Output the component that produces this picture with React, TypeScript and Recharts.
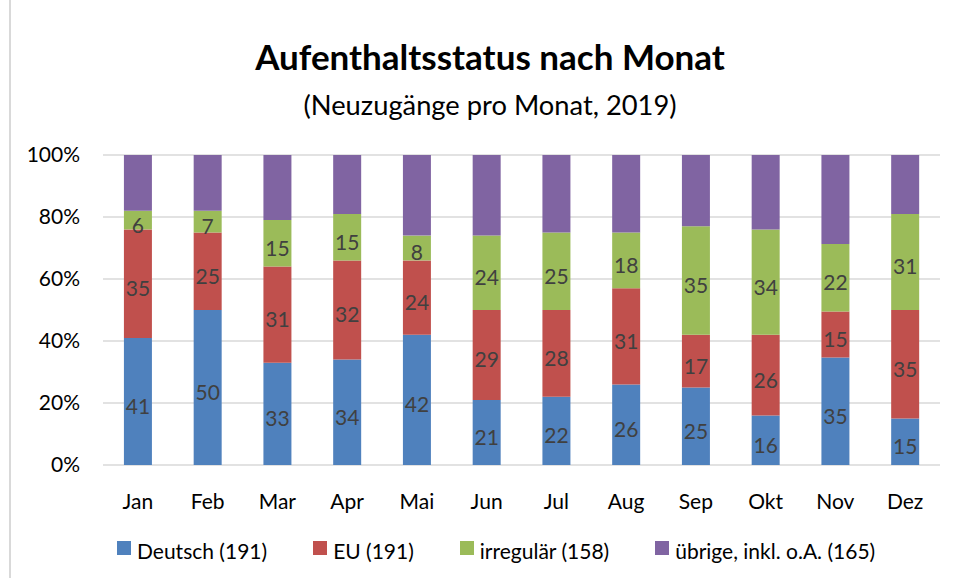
import React from 'react';
import { BarChart, Bar, XAxis, YAxis, CartesianGrid, LabelList, Legend } from 'recharts';

const months = ['Jan', 'Feb', 'Mar', 'Apr', 'Mai', 'Jun', 'Jul', 'Aug', 'Sep', 'Okt', 'Nov', 'Dez'];
const deutsch = [41, 50, 33, 34, 42, 21, 22, 26, 25, 16, 35, 15];
const eu = [35, 25, 31, 32, 24, 29, 28, 31, 17, 26, 15, 35];
const irregulaer = [6, 7, 15, 15, 8, 24, 25, 18, 35, 34, 22, 31];
const uebrige = [18, 18, 21, 19, 26, 26, 25, 25, 23, 24, 29, 19];
const seriesNames = ['Deutsch (191)', 'EU (191)', 'irregulär (158)', 'übrige, inkl. o.A. (165)'];
const seriesKeys = ['deutsch', 'eu', 'irregulaer', 'uebrige'];
const seriesColors = ['#4F81BD', '#C0504D', '#9BBB59', '#8064A2'];
const yTicks = [0, 0.2, 0.4, 0.6, 0.8, 1];

const data = months.map((m, i) => ({
  month: m,
  deutsch: deutsch[i],
  eu: eu[i],
  irregulaer: irregulaer[i],
  uebrige: uebrige[i],
}));

const FONT = 'Lato, Carlito, "Open Sans", sans-serif';

const renderLegend = (props: any) => {
  const payload = props.payload || [];
  return (
    <div style={{ display: 'flex', justifyContent: 'flex-start', paddingLeft: 117, fontFamily: FONT, fontSize: 21, lineHeight: '24px', color: '#000' }}>
      {payload.map((p: any, i: number) => (
        <div key={i} style={{ display: 'flex', alignItems: 'center', marginRight: i < payload.length - 1 ? 46 : 0 }}>
          <span style={{ display: 'inline-block', width: 14, height: 14, background: p.color, marginRight: 6, position: 'relative', top: -3 }} />
          <span>{p.value}</span>
        </div>
      ))}
    </div>
  );
};

export default function App() {
  return (
    <div style={{ position: 'absolute', left: 0, top: 0, width: 957, height: 578, background: '#fff', overflow: 'hidden' }}>
      <div style={{ position: 'absolute', left: 9, top: 0, width: 2, height: 578, background: '#D9D9D9' }} />
      <div style={{ position: 'absolute', left: 0, top: 39, width: 980, textAlign: 'center', fontFamily: FONT, fontWeight: 700, fontSize: 35, lineHeight: '35px', color: '#000' }}>
        Aufenthaltsstatus nach Monat
      </div>
      <div style={{ position: 'absolute', left: 0, top: 91, width: 980, textAlign: 'center', fontFamily: FONT, fontSize: 27.3, lineHeight: '27px', color: '#000' }}>
        (Neuzugänge pro Monat, 2019)
      </div>
      <BarChart
        width={957}
        height={578}
        data={data}
        stackOffset="expand"
        barCategoryGap="30%"
        margin={{ top: 155, right: 17, left: 0, bottom: 59 }}
        style={{ position: 'absolute', left: 0, top: 0 }}
      >
        <CartesianGrid vertical={false} stroke="#D9D9D9" strokeWidth={1.5} />
        <XAxis
          dataKey="month"
          axisLine={false}
          tickLine={false}
          tickSize={0}
          tickMargin={29}
          height={30}
          interval={0}
          tick={{ fill: '#000', fontSize: 21, fontFamily: FONT }}
        />
        <YAxis
          width={103}
          domain={[0, 1]}
          ticks={yTicks}
          axisLine={false}
          tickLine={false}
          tickSize={0}
          tickMargin={23}
          tickFormatter={(v: number) => `${Math.round(v * 100)}%`}
          tick={{ fill: '#000', fontSize: 21, fontFamily: FONT }}
        />
        <Legend
          content={renderLegend}
          wrapperStyle={{ position: 'absolute', left: 0, top: 539, width: 957 }}
        />
        {seriesKeys.map((k, i) => (
          <Bar key={k} dataKey={k} name={seriesNames[i]} stackId="a" fill={seriesColors[i]} isAnimationActive={false}>
            {i < 3 && (
              <LabelList dataKey={k} position="center" fill="#404040" fontSize={21} fontFamily={FONT} dy={5} />
            )}
          </Bar>
        ))}
      </BarChart>
    </div>
  );
}
